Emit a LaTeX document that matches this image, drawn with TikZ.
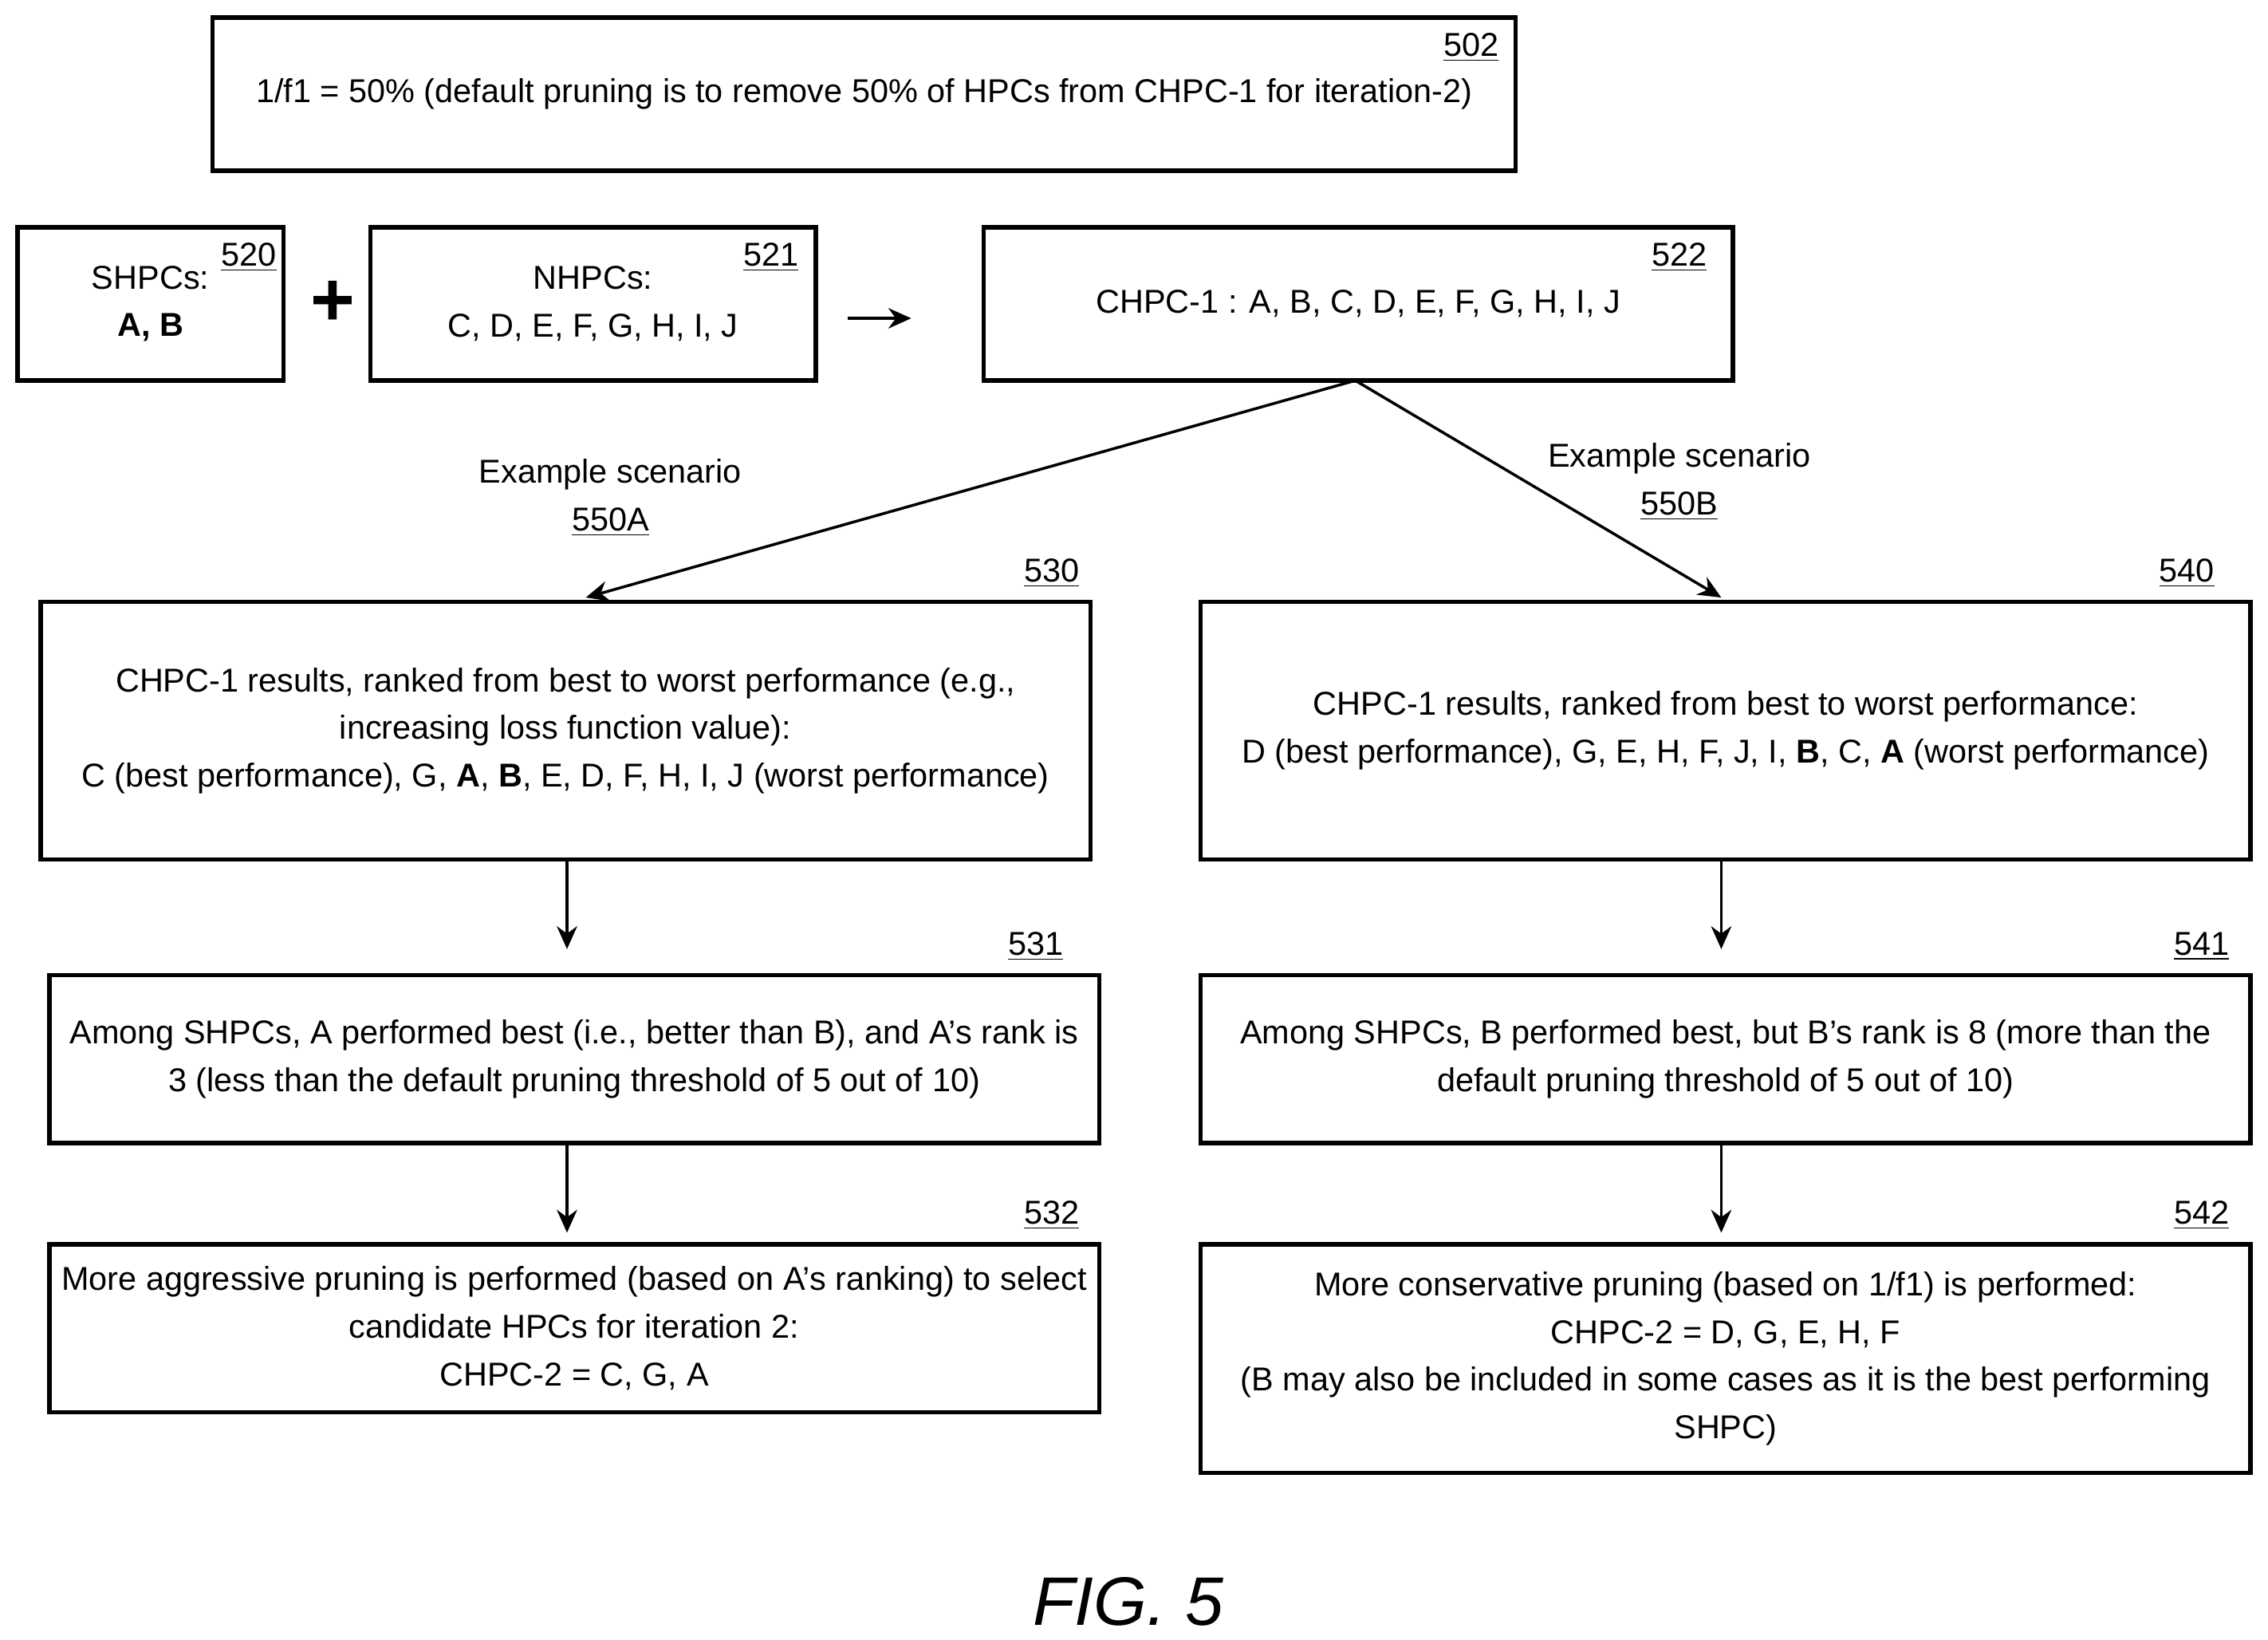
\documentclass[tikz,border=0pt]{standalone}
\usepackage{fontspec}
\setmainfont{Liberation Sans}
\usetikzlibrary{arrows.meta}
\begin{document}
\begin{tikzpicture}[x=0.02cm,y=-0.02cm,
 box/.style={draw,line width=1.7pt,inner sep=0pt,align=center,font=\fontsize{13}{18.7}\selectfont},
 num/.style={font=\fontsize{13}{18.7}\selectfont,inner sep=1pt},
 arr/.style={line width=1.1pt,-{Stealth[length=9pt,width=8pt]}},
 lab/.style={font=\fontsize{13}{18.7}\selectfont,align=center}]
\useasboundingbox (0,0) rectangle (1568,1133);
\node[box,minimum width=18.02cm,minimum height=2.12cm] (b502) at (597.5,65) {1/f1 = 50\% (default pruning is to remove 50\% of HPCs from CHPC-1 for iteration-2)};
\node[box,minimum width=3.68cm,minimum height=2.12cm] (b520) at (104,210) {SHPCs:\\\textbf{A, B}};
\node[box,minimum width=6.16cm,minimum height=2.12cm] (b521) at (410,210) {NHPCs:\\C, D, E, F, G, H, I, J};
\node[box,minimum width=10.36cm,minimum height=2.12cm] (b522) at (939,210) {CHPC-1 : A, B, C, D, E, F, G, H, I, J};
\node[box,minimum width=14.52cm,minimum height=3.56cm] (b530) at (391,505) {CHPC-1 results, ranked from best to worst performance (e.g.,\\increasing loss function value):\\C (best performance), G, \textbf{A}, \textbf{B}, E, D, F, H, I, J (worst performance)};
\node[box,minimum width=14.52cm,minimum height=3.56cm] (b540) at (1193,505) {CHPC-1 results, ranked from best to worst performance:\\D (best performance), G, E, H, F, J, I, \textbf{B}, C, \textbf{A} (worst performance)};
\node[box,minimum width=14.52cm,minimum height=2.32cm] (b531) at (397,732) {Among SHPCs, A performed best (i.e., better than B), and A’s rank is\\3 (less than the default pruning threshold of 5 out of 10)};
\node[box,minimum width=14.52cm,minimum height=2.32cm] (b541) at (1193,732) {Among SHPCs, B performed best, but B’s rank is 8 (more than the\\default pruning threshold of 5 out of 10)};
\node[box,minimum width=14.52cm,minimum height=2.32cm] (b532) at (397,918) {More aggressive pruning is performed (based on A’s ranking) to select\\candidate HPCs for iteration 2:\\CHPC-2 = C, G, A};
\node[box,minimum width=14.52cm,minimum height=3.16cm] (b542) at (1193,939) {More conservative pruning (based on 1/f1) is performed:\\CHPC-2 = D, G, E, H, F\\(B may also be included in some cases as it is the best performing\\SHPC)};
\node[num] (n502) at (1017,33) {\underline{502}};
\node[num] (n520) at (172,178) {\underline{520}};
\node[num] (n521) at (533,178) {\underline{521}};
\node[num] (n522) at (1161,178) {\underline{522}};
\node[num] (n530) at (727,396) {\underline{530}};
\node[num] (n540) at (1512,396) {\underline{540}};
\node[num] (n531) at (716,654) {\underline{531}};
\node[num] (n541) at (1522,654) {\underline{541}};
\node[num] (n532) at (727,840) {\underline{532}};
\node[num] (n542) at (1522,840) {\underline{542}};
\node[font=\fontsize{30}{30}\selectfont] (plus) at (230,210) {\textbf{+}};
\coordinate (pa) at (586,220); \coordinate (pb) at (630,220);
\draw[arr] (pa) -- (pb);
\coordinate (top) at (937,263);
\coordinate (ea) at (405,413); \coordinate (eb) at (1190,413);
\draw[arr] (top) -- (ea);
\draw[arr] (top) -- (eb);
\node[lab] (s1) at (422,344) {Example scenario\\\underline{550A}};
\node[lab] (s2) at (1161,333) {Example scenario\\\underline{550B}};
\foreach \x/\n in {392/a,1190/b}{
 \coordinate (u1\n) at (\x,594); \coordinate (v1\n) at (\x,656);
 \coordinate (u2\n) at (\x,790); \coordinate (v2\n) at (\x,852);
 \draw[arr] (u1\n) -- (v1\n); \draw[arr] (u2\n) -- (v2\n);}
\node[font=\fontsize{27}{30}\selectfont\itshape] (fig) at (780,1107) {FIG. 5};
\end{tikzpicture}
\end{document}
